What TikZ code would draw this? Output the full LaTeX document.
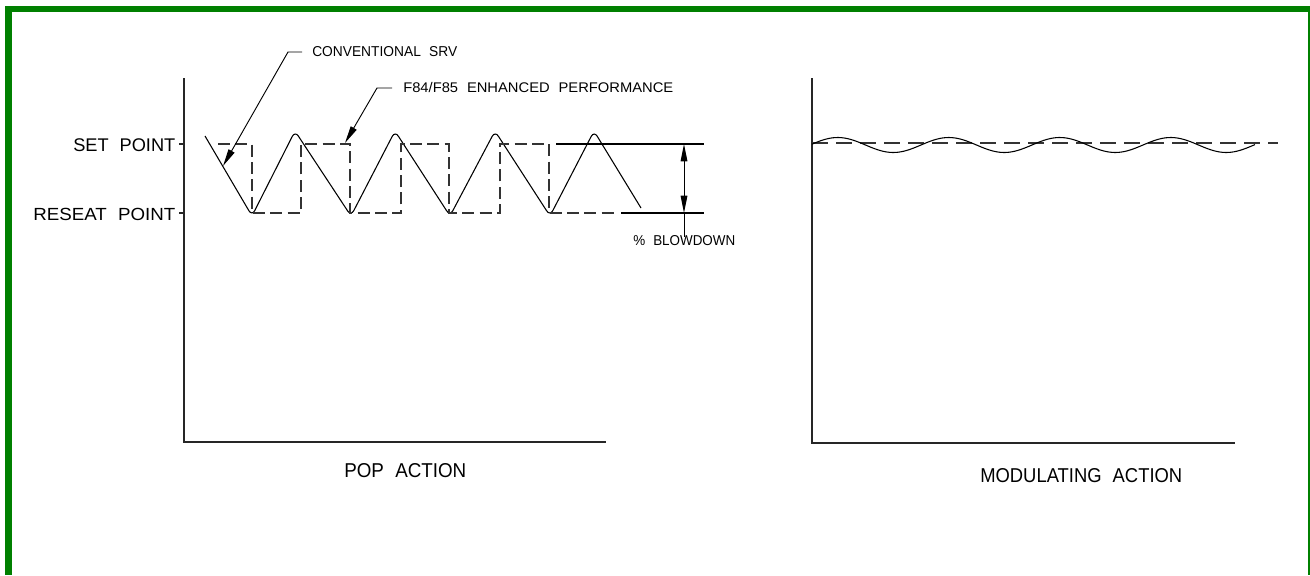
\documentclass[tikz,border=0pt]{standalone}
\usepackage{fontspec}
\setmainfont{Liberation Sans}
\usepackage{graphicx}
\usetikzlibrary{arrows.meta}
\definecolor{frame}{RGB}{0,128,0}
\newcommand{\wgap}{\hspace{0.6em}}
\newcommand{\fitlbl}[3]{\resizebox{#1}{#2}{#3}}
\begin{document}
\begin{tikzpicture}[x=0.75pt,y=-0.75pt,
  axis/.style={line width=1.1pt,black!85},
  curve/.style={line width=0.8pt,black},
  sq/.style={line width=0.8pt,black!80,dash pattern=on 9pt off 4pt},
  lbl/.style={inner sep=0pt,anchor=south west},
  leader/.style={line width=0.7pt,black},
  tip/.style={-{Triangle[length=13pt,width=5pt]}}]
\useasboundingbox (0,0) rectangle (1310,575);
% green frame
\fill[frame] (5,6) rectangle (1310,12);
\fill[frame] (5,6) rectangle (12,575);
\fill[frame] (1308,6) rectangle (1310,575);

% ---------- POP ACTION ----------
\coordinate (ltop) at (184,78);
\coordinate (lorg) at (184,442);
\coordinate (lend) at (606,442);
\draw[axis] (ltop) -- (lorg) -- (lend);
\coordinate (setT) at (179,144);
\coordinate (resT) at (179,213);
\draw[axis] (setT) -- (184,144);
\draw[axis] (resT) -- (184,213);
\node[lbl] (setlbl) at (73,152) {\fitlbl{76.5pt}{9.6pt}{SET\wgap POINT}};
\node[lbl] (reslbl) at (33,221) {\fitlbl{106.5pt}{9.2pt}{RESEAT\wgap POINT}};

% conventional SRV curve
\draw[curve,rounded corners=4.5pt] (205,136) -- (252,216) -- (295,131) -- (351,216)
  -- (395,131) -- (450,216) -- (495,131) -- (550,216) -- (594,131) -- (641,208);

% F84/F85 square wave
\draw[sq] (218,144) -- (252,144) -- (252,213) -- (301,213) -- (301,144) -- (350,144)
  -- (350,213) -- (401,213) -- (401,144) -- (449,144) -- (449,213) -- (500,213)
  -- (500,144) -- (549,144) -- (549,213) -- (615,213);
\draw[curve] (621,213) -- (704,213);
\draw[curve] (556,144) -- (704,144);

% blowdown dimension
\coordinate (bdTop) at (684,144);
\coordinate (bdBot) at (684,213);
\coordinate (bdMid) at (684,178);
\coordinate (bdEnd) at (684,237);
\draw[leader,tip] (bdMid) -- (bdTop);
\draw[leader,tip] (bdMid) -- (bdBot);
\draw[leader] (bdBot) -- (bdEnd);
\node[lbl] (bdlbl) at (633,246) {\fitlbl{76.5pt}{7.5pt}{\%\wgap BLOWDOWN}};

% leaders
\node[lbl] (convlbl) at (312,57) {\fitlbl{108.75pt}{7.5pt}{CONVENTIONAL\wgap SRV}};
\coordinate (c1) at (302,52);
\coordinate (c2) at (288,52);
\coordinate (c3) at (223,166);
\draw[leader,tip] (c1) -- (c2) -- (c3);
\node[lbl] (f84lbl) at (403,93) {\fitlbl{202.5pt}{7.6pt}{F84/F85\wgap ENHANCED\wgap PERFORMANCE}};
\coordinate (f1) at (392,88);
\coordinate (f2) at (377,88);
\coordinate (f3) at (345,143);
\draw[leader,tip] (f1) -- (f2) -- (f3);

\node[lbl] (poplbl) at (344,478) {\fitlbl{91.5pt}{10.5pt}{POP\wgap ACTION}};

% ---------- MODULATING ACTION ----------
\coordinate (rtop) at (812,78);
\coordinate (rorg) at (812,443);
\coordinate (rend) at (1235,443);
\draw[axis] (rtop) -- (rorg) -- (rend);
\coordinate (mset) at (812,143);
\coordinate (msetE) at (1278,143);
\draw[line width=0.8pt,black!80,dash pattern=on 12pt off 6pt] (mset) -- (msetE);
\draw[curve] plot[domain=0:443,samples=150,smooth] ({812+\x},{145-7.5*sin(3.2432*(\x+2))});
\node[lbl] (modlbl) at (980,483) {\fitlbl{151.5pt}{10.5pt}{MODULATING\wgap ACTION}};
\end{tikzpicture}
\end{document}
